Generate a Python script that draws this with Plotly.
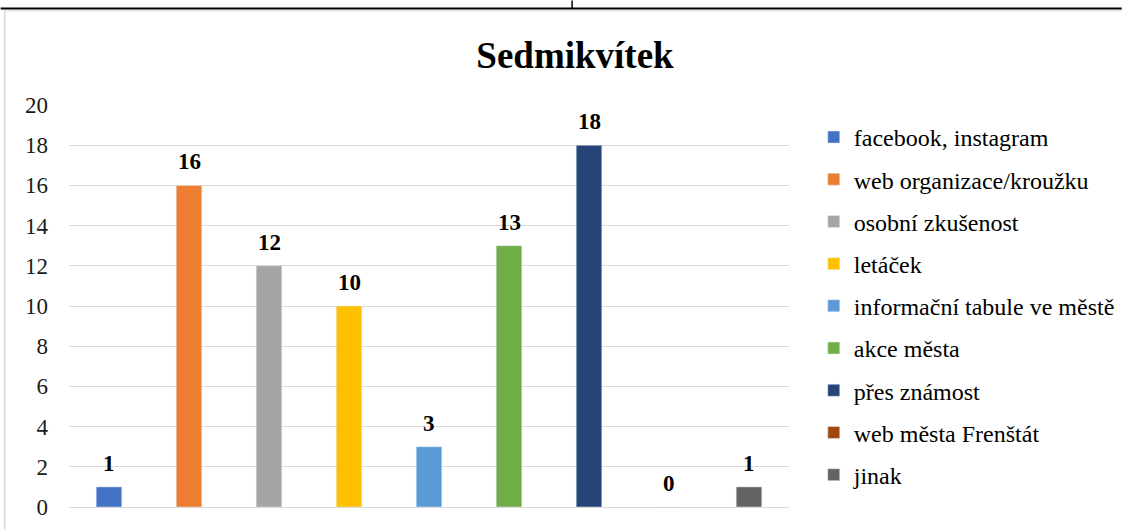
import plotly.graph_objects as go

# data
categories = ["facebook, instagram", "web organizace/kroužku", "osobní zkušenost",
              "letáček", "informační tabule ve městě", "akce města",
              "přes známost", "web města Frenštát", "jinak"]
values = [1, 16, 12, 10, 3, 13, 18, 0, 1]
colors = ["#4472C4", "#ED7D31", "#A5A5A5", "#FFC000", "#5B9BD5",
          "#70AD47", "#264478", "#9E480E", "#636363"]

W, H = 1132, 532
L, R, T, B = 69, 796, 105, 509  # plot area in pixels
FONT = "Liberation Serif"

def px(x):
    return (x - L) / (R - L)

def py(y):
    return (B - y) / (B - T)

fig = go.Figure()
for i, (cat, val, col) in enumerate(zip(categories, values, colors)):
    fig.add_trace(go.Bar(x=[i], y=[val], name=cat, marker_color=col, width=0.32,
                         legendgroup=cat))
    # value label above the bar
    fig.add_annotation(x=i, y=val, text="<b>%d</b>" % val, showarrow=False,
                       yanchor="bottom", yshift=9,
                       font=dict(family=FONT, size=23, color="black"))

# page borders (table line + chart frame)
fig.add_shape(type="line", xref="paper", yref="paper", x0=px(0), x1=px(W), y0=py(8), y1=py(8),
              line=dict(color="black", width=2))
fig.add_shape(type="line", xref="paper", yref="paper", x0=px(577), x1=px(577), y0=py(0), y1=py(8),
              line=dict(color="black", width=1.5))
fig.add_shape(type="line", xref="paper", yref="paper", x0=px(4), x1=px(W), y0=py(10.5), y1=py(10.5),
              line=dict(color="#D9D9D9", width=1))
fig.add_shape(type="line", xref="paper", yref="paper", x0=px(4), x1=px(4), y0=py(10), y1=py(H),
              line=dict(color="#D9D9D9", width=1.5))

fig.update_layout(
    width=W, height=H,
    margin=dict(l=L, r=W - R, t=T, b=H - B),
    paper_bgcolor="white", plot_bgcolor="white",
    font=dict(family=FONT, size=22, color="black"),
    title=dict(text="<b>Sedmikvítek</b>", x=575 / W, xanchor="center",
               y=1 - 55 / H, yanchor="middle",
               font=dict(family=FONT, size=37, color="black")),
    barmode="overlay",
    showlegend=True,
    legend=dict(x=px(821), y=py(115), xanchor="left", yanchor="top",
                traceorder="grouped", tracegroupgap=8, maxheight=520,
                font=dict(family=FONT, size=24, color="black"),
                itemwidth=30, bgcolor="rgba(0,0,0,0)"),
)
fig.update_xaxes(range=[-0.5, 8.5], showticklabels=False, showgrid=False,
                 zeroline=False, showline=False, ticks="")
fig.update_yaxes(range=[0, 20], dtick=2, showgrid=True, gridcolor="#D9D9D9",
                 gridwidth=1, zeroline=True, zerolinecolor="#D9D9D9", zerolinewidth=1,
                 showline=False, ticks="", ticklabelstandoff=20,
                 tickfont=dict(family=FONT, size=23, color="#1a1a1a"))

fig.write_html("out.html", config={"displayModeBar": False},
               post_script="document.body.style.margin='0';")
